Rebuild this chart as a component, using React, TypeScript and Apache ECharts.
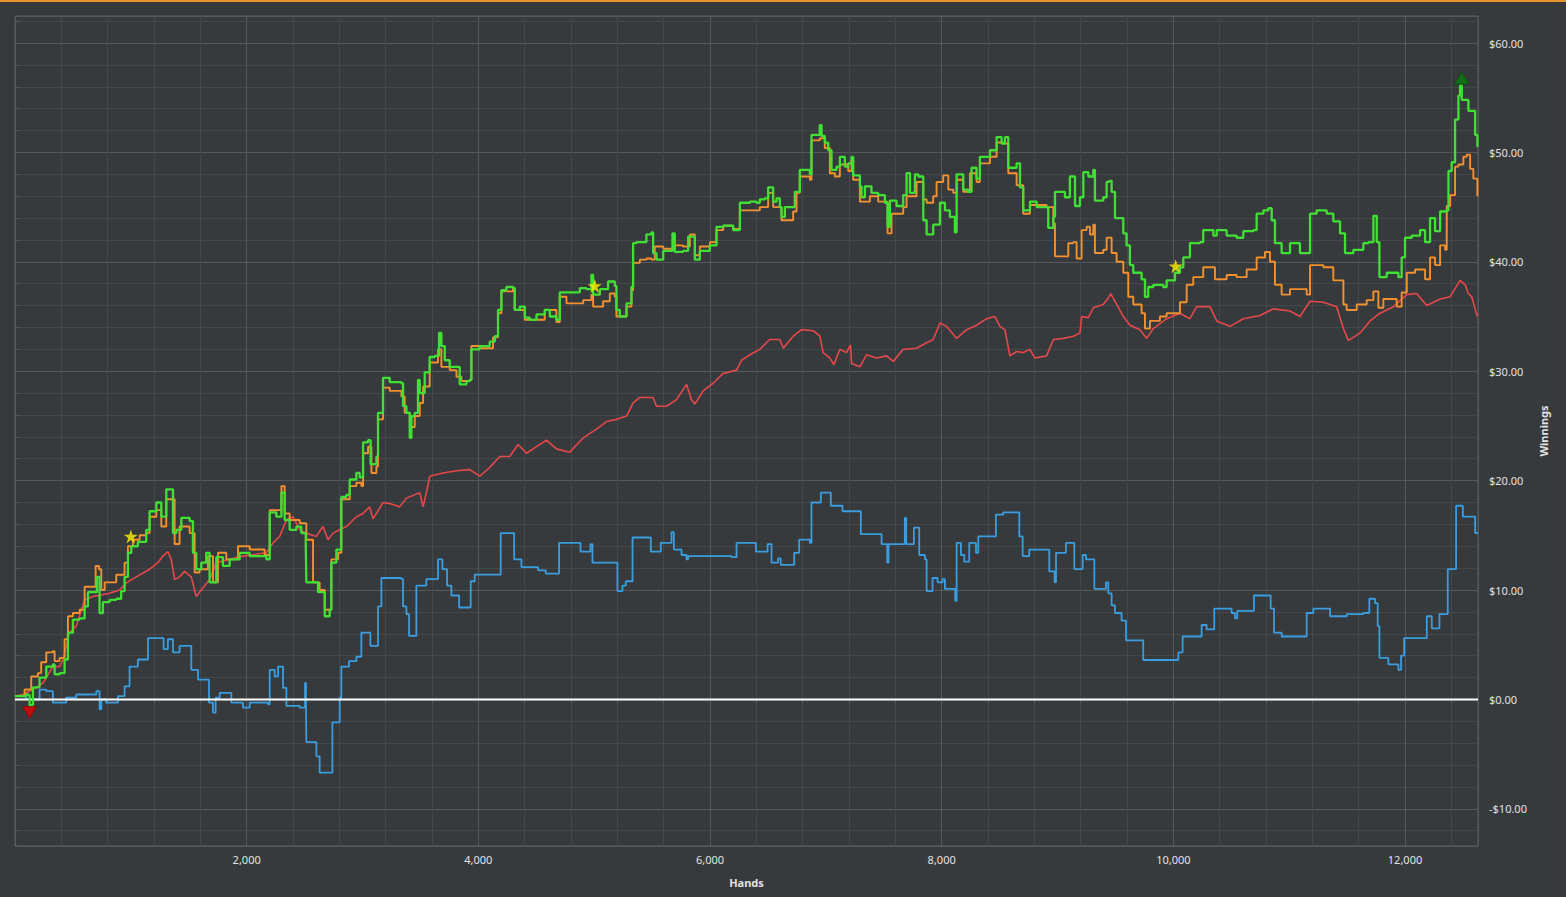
import React, { useEffect, useRef } from "react";
import * as echarts from "echarts";

// [hands, winnings]
const greenSeries: number[][] = [[0,0.3],[97,0.45],[111,0.4],[126,-0.55],[140,-0.5],[155,1.1],[212,2.0],[270,3.0],[327,3.2],[342,2.3],[385,2.4],[428,3.65],[457,6.1],[500,7.3],[558,7.4],[601,8.5],[630,9.8],[673,9.8],[707,11.2],[730,7.9],[759,8.9],[817,9.1],[874,9.2],[917,9.9],[946,11.2],[975,13.4],[1004,14.0],[1061,14.4],[1133,15.5],[1162,17.2],[1220,18.0],[1263,16.7],[1306,19.2],[1341,19.2],[1364,15.2],[1393,15.5],[1436,16.6],[1508,16.3],[1536,13.4],[1565,11.9],[1608,12.5],[1651,13.4],[1680,10.7],[1738,13.0],[1795,12.2],[1853,12.8],[1939,13.4],[2026,13.1],[2112,13.1],[2170,12.8],[2199,17.1],[2256,16.7],[2300,18.9],[2328,16.4],[2371,15.5],[2429,15.8],[2472,15.2],[2510,14.3],[2515,10.7],[2573,10.7],[2616,9.8],[2674,7.6],[2717,8.2],[2731,12.5],[2774,13.7],[2817,18.5],[2861,18.7],[2890,20.1],[2947,20.7],[2976,20.3],[3005,23.5],[3048,23.7],[3070,21.5],[3120,22.2],[3134,26.2],[3177,29.4],[3235,29.0],[3336,28.9],[3350,26.8],[3379,26.2],[3408,23.9],[3422,25.9],[3451,26.2],[3479,29.2],[3494,28.0],[3537,29.9],[3580,31.3],[3623,31.4],[3661,33.5],[3681,32.3],[3710,31.0],[3753,30.4],[3796,30.4],[3839,28.8],[3897,29.1],[3926,29.2],[3940,32.0],[4012,32.3],[4098,32.7],[4142,33.2],[4170,35.6],[4199,37.4],[4242,37.7],[4300,37.6],[4314,35.6],[4358,35.9],[4401,34.9],[4444,34.7],[4502,35.2],[4573,35.6],[4617,35.0],[4674,34.7],[4703,37.2],[4789,37.2],[4876,37.6],[4933,37.5],[4976,38.8],[4991,37.0],[5049,37.5],[5120,38.2],[5178,37.8],[5192,35.6],[5221,35.0],[5279,36.2],[5322,37.7],[5336,41.7],[5365,41.8],[5451,42.5],[5495,42.7],[5509,40.8],[5538,40.2],[5596,41.0],[5653,41.0],[5676,42.6],[5696,40.9],[5768,41.0],[5811,42.3],[5869,40.2],[5912,41.0],[5999,41.5],[6056,43.2],[6114,43.3],[6200,42.9],[6258,45.4],[6344,45.5],[6402,45.4],[6430,45.7],[6473,45.8],[6502,46.8],[6531,46.8],[6545,45.5],[6574,45.8],[6603,45.0],[6617,44.1],[6646,45.0],[6718,45.0],[6732,46.4],[6775,48.4],[6847,48.4],[6862,48.0],[6876,51.6],[6919,51.6],[6948,52.5],[6963,51.5],[6991,50.9],[7020,50.2],[7049,48.4],[7092,48.7],[7121,49.6],[7164,48.7],[7193,49.0],[7222,49.6],[7236,47.9],[7294,46.9],[7308,45.9],[7337,46.9],[7394,46.3],[7452,46.1],[7510,45.4],[7533,43.2],[7553,45.6],[7610,45.1],[7668,46.1],[7697,48.1],[7726,46.3],[7769,48.0],[7798,47.8],[7841,43.8],[7870,42.5],[7927,43.4],[7985,45.4],[8028,44.7],[8071,44.1],[8114,42.7],[8129,48.0],[8186,46.6],[8229,46.4],[8258,48.6],[8301,47.6],[8330,49.6],[8417,50.2],[8474,51.4],[8517,50.8],[8546,51.4],[8575,48.6],[8647,49.0],[8676,46.8],[8704,44.7],[8762,45.5],[8820,45.0],[8906,45.0],[8920,43.1],[8964,44.1],[8978,46.4],[9021,46.4],[9064,45.9],[9107,47.8],[9151,45.1],[9194,45.9],[9223,48.2],[9266,47.8],[9309,48.4],[9323,45.6],[9395,45.9],[9424,47.3],[9447,47.4],[9467,46.4],[9496,44.0],[9539,44.0],[9568,42.6],[9596,41.5],[9625,39.7],[9654,39.0],[9726,38.4],[9755,36.8],[9783,37.7],[9827,37.9],[9913,37.7],[9942,38.3],[10014,39.0],[10057,39.5],[10086,40.4],[10143,41.7],[10230,41.8],[10258,42.9],[10345,42.4],[10374,42.9],[10460,42.4],[10546,42.2],[10604,42.8],[10690,42.9],[10719,44.4],[10777,44.7],[10820,44.9],[10849,43.8],[10877,41.7],[10935,40.8],[11007,41.7],[11093,40.8],[11151,40.8],[11180,44.4],[11237,44.7],[11324,44.4],[11381,43.7],[11439,42.6],[11482,40.8],[11554,41.1],[11640,41.7],[11684,41.8],[11727,44.2],[11756,41.8],[11779,38.6],[11842,39.0],[11943,38.6],[11971,40.4],[12000,42.2],[12058,42.4],[12130,42.9],[12173,41.8],[12216,44.0],[12245,44.0],[12259,42.8],[12303,44.6],[12360,44.7],[12375,48.3],[12403,49.1],[12432,53.0],[12461,55.2],[12475,56.1],[12490,54.8],[12533,54.8],[12547,53.8],[12576,53.8],[12605,51.6],[12625,50.5]];

const orangeSeries: number[][] = [[0,0.3],[83,0.9],[140,2.1],[198,2.4],[226,3.4],[270,4.3],[327,4.4],[342,3.5],[385,3.8],[428,5.5],[457,7.6],[500,7.9],[558,8.2],[601,10.3],[644,10.3],[696,12.2],[725,11.9],[745,10.0],[774,10.7],[817,10.7],[874,11.4],[946,12.5],[975,14.0],[1018,14.6],[1076,15.0],[1133,15.2],[1162,16.7],[1220,17.3],[1263,15.8],[1306,18.3],[1335,18.3],[1378,14.2],[1421,15.8],[1508,15.2],[1551,11.6],[1594,11.9],[1666,13.1],[1709,10.7],[1752,13.4],[1824,12.8],[1925,14.0],[2026,13.7],[2155,13.2],[2199,17.3],[2256,17.3],[2300,19.5],[2328,17.0],[2371,16.4],[2458,16.1],[2515,14.6],[2573,10.7],[2630,10.0],[2674,8.2],[2731,12.8],[2789,13.4],[2817,18.3],[2861,18.3],[2890,19.5],[2947,19.8],[2990,19.5],[3005,22.5],[3048,23.1],[3077,20.7],[3120,21.3],[3134,25.6],[3177,28.5],[3235,28.2],[3336,27.7],[3364,26.2],[3408,24.9],[3451,25.9],[3494,27.1],[3523,28.6],[3580,30.8],[3652,32.0],[3681,30.4],[3753,30.1],[3811,29.5],[3854,29.1],[3926,29.2],[3940,32.3],[4012,32.1],[4127,33.1],[4170,35.3],[4199,37.3],[4300,37.6],[4314,35.6],[4401,34.7],[4573,35.6],[4674,34.5],[4703,36.8],[4761,36.2],[4905,36.5],[4976,37.0],[4991,35.9],[5077,36.4],[5135,37.1],[5178,36.8],[5192,35.0],[5221,35.0],[5279,35.9],[5322,37.4],[5336,39.9],[5394,40.2],[5451,40.3],[5495,40.2],[5523,41.4],[5596,41.2],[5682,41.5],[5768,41.4],[5826,42.5],[5869,40.6],[5912,41.4],[5999,41.8],[6056,42.9],[6114,43.3],[6200,43.0],[6258,44.7],[6402,44.7],[6430,45.0],[6502,46.3],[6545,45.0],[6617,43.8],[6718,44.6],[6747,46.3],[6775,47.8],[6862,47.5],[6876,51.1],[6948,51.3],[6991,50.4],[7035,48.1],[7078,47.8],[7121,48.9],[7193,48.3],[7222,49.3],[7236,47.5],[7294,45.5],[7380,46.0],[7452,45.5],[7533,42.6],[7567,44.4],[7668,45.0],[7697,46.0],[7783,47.3],[7841,45.7],[7870,45.4],[7927,46.0],[7956,47.3],[8013,47.9],[8057,46.6],[8100,46.3],[8129,47.5],[8186,46.4],[8244,48.1],[8301,47.3],[8330,49.0],[8417,49.6],[8474,50.9],[8546,50.8],[8575,48.1],[8647,47.0],[8704,44.4],[8762,45.2],[8906,45.0],[8964,43.5],[8978,40.5],[9050,40.5],[9093,41.7],[9136,41.8],[9165,40.3],[9208,42.9],[9251,43.2],[9280,42.5],[9309,43.4],[9323,40.8],[9395,41.1],[9424,42.2],[9467,40.8],[9510,40.0],[9568,39.0],[9611,36.8],[9654,36.1],[9726,35.3],[9755,33.9],[9798,34.6],[9884,35.0],[9942,35.3],[10057,36.3],[10115,37.9],[10172,38.6],[10258,39.5],[10359,38.4],[10460,38.8],[10546,38.6],[10633,39.3],[10719,40.4],[10791,40.9],[10834,40.0],[10877,37.9],[10935,37.0],[11007,37.5],[11151,37.0],[11180,39.7],[11295,39.5],[11381,38.3],[11468,36.1],[11496,35.6],[11583,36.1],[11669,36.5],[11727,37.3],[11770,35.8],[11813,36.6],[11928,35.9],[11971,37.2],[12015,39.0],[12087,39.3],[12173,38.4],[12216,40.4],[12259,39.7],[12303,41.5],[12346,41.1],[12360,45.1],[12389,46.1],[12432,48.7],[12461,48.9],[12504,49.6],[12533,49.8],[12562,48.5],[12590,47.6],[12625,46.0]];

const redSeries: number[][] = [[0,0.3],[68,0.45],[155,0.9],[241,1.5],[327,3.0],[385,3.0],[414,3.65],[471,6.1],[529,6.7],[601,9.1],[673,9.4],[817,9.7],[903,10.0],[961,10.65],[1047,11.2],[1162,11.9],[1234,12.5],[1277,13.1],[1320,13.5],[1349,12.8],[1378,10.95],[1421,11.2],[1464,11.7],[1522,11.2],[1565,9.4],[1608,10.0],[1680,10.95],[1738,12.5],[1853,12.8],[1968,13.1],[2170,13.4],[2227,14.3],[2285,14.9],[2343,16.4],[2400,16.7],[2458,15.5],[2515,15.2],[2601,14.9],[2659,15.8],[2702,14.6],[2746,15.2],[2803,15.5],[2861,15.8],[2947,16.7],[3005,17.0],[3062,17.6],[3091,16.5],[3177,18.0],[3235,17.9],[3321,17.6],[3379,18.4],[3494,18.9],[3523,17.6],[3566,19.6],[3580,20.4],[3695,20.7],[3811,20.9],[3926,21.0],[4012,20.4],[4098,21.2],[4185,22.2],[4271,22.2],[4343,23.3],[4415,22.5],[4502,23.1],[4588,23.7],[4674,22.9],[4789,22.6],[4905,23.9],[5020,24.7],[5106,25.4],[5192,25.6],[5279,25.9],[5336,27.1],[5394,27.6],[5509,27.6],[5538,26.8],[5624,26.8],[5711,27.4],[5797,28.8],[5840,27.4],[5869,27.0],[5941,28.2],[6027,28.9],[6114,29.8],[6229,30.1],[6272,31.0],[6344,31.5],[6430,32.0],[6516,32.9],[6603,32.9],[6632,32.1],[6718,33.2],[6790,33.8],[6891,33.7],[6948,33.2],[6977,31.7],[7035,31.2],[7069,30.6],[7121,32.0],[7179,31.7],[7213,32.4],[7222,30.7],[7294,30.4],[7351,31.5],[7438,31.2],[7524,31.4],[7582,30.9],[7668,32.0],[7783,32.1],[7870,32.6],[7927,32.9],[7985,34.4],[8042,34.1],[8129,33.0],[8215,33.8],[8301,34.2],[8388,34.8],[8460,35.0],[8503,34.1],[8546,33.8],[8589,31.4],[8647,31.8],[8704,31.7],[8762,32.0],[8805,31.2],[8906,31.4],[8964,32.9],[9050,33.0],[9136,33.2],[9194,33.5],[9208,35.0],[9266,34.9],[9309,35.8],[9395,36.1],[9439,36.7],[9459,37.1],[9511,36.1],[9568,35.0],[9626,34.2],[9712,33.8],[9770,33.0],[9827,33.9],[9942,34.8],[10057,35.3],[10143,34.8],[10201,35.9],[10316,35.9],[10374,34.6],[10489,34.1],[10604,34.8],[10748,35.1],[10863,35.7],[11007,35.5],[11093,35.0],[11180,36.4],[11295,36.3],[11410,35.9],[11468,33.9],[11511,32.8],[11612,33.5],[11698,34.6],[11784,35.3],[11900,35.9],[12015,37.0],[12101,37.1],[12187,36.0],[12303,36.6],[12389,36.8],[12475,38.3],[12519,37.9],[12547,37.1],[12576,36.8],[12605,35.7],[12625,35.0]];

const blueSeries: number[][] = [[0,0.3],[97,0.0],[212,0.9],[270,0.75],[327,-0.3],[442,0.15],[529,0.45],[702,0.75],[730,-0.9],[745,0.0],[788,-0.3],[889,0.3],[946,1.2],[989,3.0],[1061,3.65],[1148,5.6],[1283,4.6],[1320,5.5],[1364,4.3],[1421,4.9],[1522,2.7],[1580,1.8],[1675,-0.3],[1709,-1.2],[1732,0.15],[1767,0.6],[1868,-0.3],[1968,-0.75],[2026,-0.3],[2184,-0.45],[2199,2.7],[2242,2.1],[2271,3.0],[2314,1.05],[2343,-0.6],[2458,-0.75],[2504,1.5],[2512,-0.45],[2515,-3.9],[2602,-5.2],[2630,-6.7],[2740,-2.1],[2803,0.15],[2817,3.0],[2884,3.5],[2947,3.9],[2990,6.1],[3068,4.9],[3134,8.5],[3163,11.1],[3336,11.0],[3350,8.5],[3379,7.8],[3402,5.8],[3465,10.4],[3551,11.0],[3652,12.8],[3690,11.9],[3730,10.4],[3767,9.5],[3834,8.4],[3934,10.8],[3969,11.4],[4193,15.2],[4309,12.8],[4372,12.1],[4516,11.8],[4582,11.5],[4697,14.3],[4882,13.5],[4968,14.2],[4985,12.5],[5201,9.9],[5244,10.4],[5273,10.8],[5331,14.8],[5489,13.5],[5575,14.3],[5668,15.3],[5688,13.7],[5754,13.2],[5797,12.8],[5811,13.1],[6186,13.0],[6229,14.3],[6396,13.5],[6497,14.2],[6531,12.5],[6588,12.9],[6611,12.3],[6727,13.4],[6770,14.6],[6862,14.3],[6876,18.0],[6957,18.9],[7043,17.7],[7144,17.2],[7302,15.1],[7481,14.2],[7530,12.5],[7541,14.2],[7682,16.6],[7694,14.2],[7760,15.7],[7806,13.2],[7855,12.8],[7870,9.9],[7921,11.1],[7965,10.7],[8008,11.0],[8028,10.1],[8117,9.0],[8129,14.3],[8166,13.2],[8195,12.6],[8238,14.3],[8296,13.4],[8316,14.9],[8468,16.9],[8532,17.1],[8670,14.9],[8699,13.1],[8756,13.7],[8929,11.7],[8975,10.7],[8987,13.4],[9073,14.3],[9145,11.9],[9217,13.2],[9246,12.8],[9318,10.1],[9418,10.7],[9438,9.7],[9467,8.6],[9496,7.9],[9553,7.2],[9591,5.4],[9740,3.6],[10043,4.3],[10080,5.75],[10244,6.8],[10287,6.4],[10353,8.3],[10503,7.9],[10532,7.4],[10552,8.1],[10696,9.5],[10840,8.3],[10869,6.1],[10935,5.75],[11151,7.9],[11209,8.3],[11353,7.6],[11497,7.8],[11640,7.9],[11692,9.2],[11741,8.8],[11764,6.7],[11779,3.8],[11856,3.2],[11943,2.7],[11966,4.0],[11992,5.6],[12188,7.6],[12231,6.5],[12297,7.8],[12369,11.9],[12441,17.7],[12499,16.7],[12605,15.2],[12625,15.3]];

const zeroLine: number[][] = [[0, 0], [12630, 0]];
const starPoints: number[][] = [[1000, 14.9], [5005, 37.8], [10020, 39.6]];
const minMarker: number[][] = [[126, -1.2]];
const maxMarker: number[][] = [[12490, 56.8]];

const X_MIN = 0;
const X_MAX = 12630;
const Y_MIN = -13.4;
const Y_MAX = 62.47;

const STAR =
  "path://M50,0 L61.2,34.5 L97.6,34.5 L68.2,55.9 L79.4,90.5 L50,69.1 L20.6,90.5 L31.8,55.9 L2.4,34.5 L38.8,34.5 Z";

export default function App() {
  const ref = useRef<HTMLDivElement>(null);
  useEffect(() => {
    document.body.style.margin = "0";
    document.body.style.background = "#373a3d";
    const chart = echarts.init(ref.current as HTMLDivElement, null, { renderer: "svg" });
    const labelColor = "#e2e2e2";
    const font = "'Noto Sans', 'Open Sans', sans-serif";
    chart.setOption({
      animation: false,
      backgroundColor: "#373a3d",
      textStyle: { fontFamily: font },
      graphic: [
        {
          type: "rect",
          silent: true,
          shape: { x: 0, y: 0, width: 1566, height: 2 },
          style: { fill: "#e8952b" },
        },
      ],
      grid: {
        left: 15,
        top: 16,
        width: 1463,
        height: 830,
        show: true,
        borderColor: "#5e6164",
        borderWidth: 1,
        backgroundColor: "transparent",
      },
      xAxis: {
        type: "value",
        min: X_MIN,
        max: X_MAX,
        interval: 2000,
        name: "Hands",
        nameLocation: "middle",
        nameGap: 31,
        nameTextStyle: { color: labelColor, fontWeight: "bold", fontSize: 11, fontFamily: font },
        axisLine: { show: false },
        axisTick: { show: true, length: 4, lineStyle: { color: "#55585b" } },
        minorTick: { show: true, splitNumber: 5, length: 4, lineStyle: { color: "#55585b" } },
        axisLabel: {
          color: labelColor,
          fontSize: 11,
          margin: 8,
          showMinLabel: false,
          showMaxLabel: false,
          formatter: (v: number) => (v > 0 && v % 2000 === 0 ? v.toLocaleString("en-US") : ""),
        },
        splitLine: { show: true, lineStyle: { color: "#56595c", width: 1 } },
        minorSplitLine: { show: true, lineStyle: { color: "#45484b", width: 1 } },
      },
      yAxis: {
        type: "value",
        position: "right",
        min: Y_MIN,
        max: Y_MAX,
        minInterval: 10,
        maxInterval: 10,
        name: "Winnings",
        nameLocation: "middle",
        nameRotate: 90,
        nameGap: 53,
        nameTextStyle: { color: labelColor, fontWeight: "bold", fontSize: 11, fontFamily: font },
        axisLine: { show: false },
        axisTick: { show: true, length: 4, lineStyle: { color: "#55585b" } },
        minorTick: { show: true, splitNumber: 5, length: 4, lineStyle: { color: "#55585b" } },
        axisLabel: {
          color: labelColor,
          fontSize: 11,
          margin: 11,
          showMinLabel: false,
          showMaxLabel: false,
          formatter: (v: number) => {
            if (Math.abs(v - Math.round(v / 10) * 10) > 1e-6) return "";
            return (v < 0 ? "-$" : "$") + Math.abs(v).toFixed(2);
          },
        },
        splitLine: { show: true, lineStyle: { color: "#56595c", width: 1 } },
        minorSplitLine: { show: true, lineStyle: { color: "#45484b", width: 1 } },
      },
      series: [
        {
          name: "All-in EV diff",
          type: "line",
          data: blueSeries,
          step: "end",
          symbol: "none",
          silent: true,
          lineStyle: { color: "#3a9de0", width: 1.8 },
          z: 2,
        },
        {
          name: "Zero",
          type: "line",
          data: zeroLine,
          symbol: "none",
          silent: true,
          lineStyle: { color: "#ffffff", width: 2 },
          z: 3,
        },
        {
          name: "Showdown",
          type: "line",
          data: redSeries,
          symbol: "none",
          silent: true,
          lineStyle: { color: "#e4484b", width: 1.6 },
          z: 4,
        },
        {
          name: "All-in EV",
          type: "line",
          data: orangeSeries,
          step: "end",
          symbol: "none",
          silent: true,
          lineStyle: { color: "#f2912e", width: 1.9 },
          z: 5,
        },
        {
          name: "Net won",
          type: "line",
          data: greenSeries,
          step: "end",
          symbol: "none",
          silent: true,
          lineStyle: { color: "#40e035", width: 2.3 },
          z: 6,
        },
        {
          name: "Milestones",
          type: "scatter",
          data: starPoints,
          symbol: STAR,
          symbolSize: 14,
          silent: true,
          itemStyle: { color: "#fff200" },
          z: 10,
        },
        {
          name: "Low",
          type: "scatter",
          data: minMarker,
          symbol: "triangle",
          symbolRotate: 180,
          symbolSize: [14, 12],
          silent: true,
          itemStyle: { color: "#e00000", borderColor: "#8a0000", borderWidth: 0.8 },
          z: 10,
        },
        {
          name: "High",
          type: "scatter",
          data: maxMarker,
          symbol: "triangle",
          symbolSize: [14, 12],
          silent: true,
          itemStyle: { color: "#0a7d0a", borderColor: "#054d05", borderWidth: 0.8 },
          z: 10,
        },
      ],
    });
    return () => chart.dispose();
  }, []);
  return (
    <div
      ref={ref}
      style={{ position: "fixed", left: 0, top: 0, width: 1566, height: 897, background: "#373a3d" }}
    />
  );
}
